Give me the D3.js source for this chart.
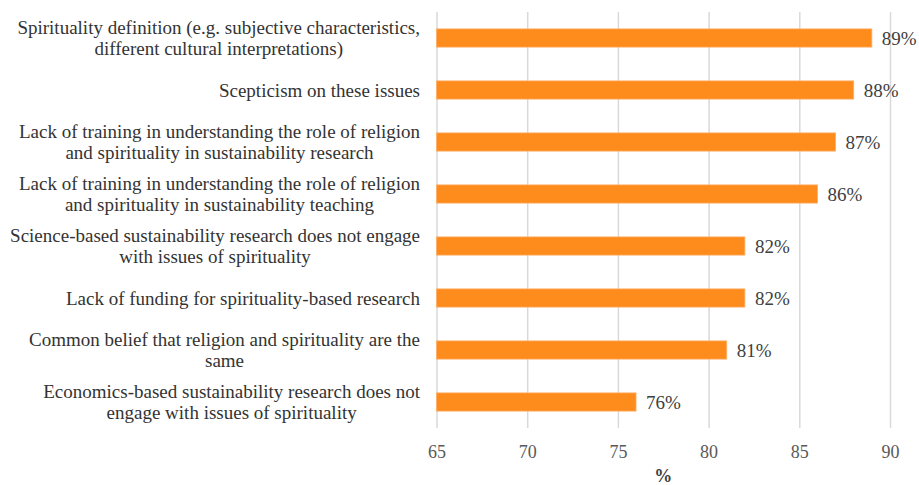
<!DOCTYPE html>
<html>
<head>
<meta charset="utf-8">
<script src="https://cdn.jsdelivr.net/npm/d3@7"></script>
<style>
  html, body { margin: 0; padding: 0; background: #fff; }
  svg { display: block; }
</style>
</head>
<body>
<svg id="chart" width="919" height="485"></svg>
<script>
const categories = [
  "Spirituality definition (e.g. subjective characteristics,\ndifferent cultural interpretations)",
  "Scepticism on these issues",
  "Lack of training in understanding the role of religion\nand spirituality in sustainability research",
  "Lack of training in understanding the role of religion\nand spirituality in sustainability teaching",
  "Science-based sustainability research does not engage\nwith issues of spirituality",
  "Lack of funding for spirituality-based research",
  "Common belief that religion and spirituality are the\nsame",
  "Economics-based sustainability research does not\nengage with issues of spirituality"
];
const values = [89, 88, 87, 86, 82, 82, 81, 76];
const xTicks = [65, 70, 75, 80, 85, 90];
const xTitle = "%";

(function () {
const FONT = "'Liberation Serif'";
const svg = d3.select("#chart").attr("font-family", "Liberation Serif");
const mLeft = 436.5, mRight = 890, mTop = 12, mBottom = 428;

const x = d3.scaleLinear().domain([65, 90]).range([mLeft, mRight]);
const y = d3.scaleBand().domain(d3.range(categories.length)).range([mTop, mBottom])
  .paddingInner(0.65).paddingOuter(0.325);

// gridlines
const grid = svg.append("g")
  .attr("transform", `translate(0,${mBottom})`)
  .call(d3.axisBottom(x).tickValues(xTicks).tickSize(-(mBottom - mTop)).tickFormat(d => d))
  .attr("font-family", "Liberation Serif");
grid.select(".domain").remove();
grid.selectAll(".tick line").attr("stroke", "#d9d9d9").attr("stroke-width", 1.5);
grid.selectAll(".tick text")
  .attr("y", 24).attr("dy", "0.35em")
  .attr("fill", "#595959")
  .style("font-size", "18px")
  .style("font-family", FONT);

// bars
svg.append("g").selectAll("rect").data(values).join("rect")
  .attr("x", x(65))
  .attr("y", (d, i) => y(i))
  .attr("width", d => x(d) - x(65))
  .attr("height", y.bandwidth())
  .attr("fill", "#fd8c1c")
  .attr("stroke", "#fdb06a")
  .attr("stroke-width", 0.8);

// value labels
svg.append("g").selectAll("text").data(values).join("text")
  .attr("x", d => x(d) + 10)
  .attr("y", (d, i) => y(i) + y.bandwidth() / 2)
  .attr("dy", "0.35em")
  .attr("fill", "#404040")
  .style("font-size", "19px")
  .style("font-family", FONT)
  .text(d => d + "%");

// category labels (multi-line, centered block, right-aligned)
const labelRight = 420;
const lineH = 21;
categories.forEach((c, i) => {
  const lines = c.split("\n");
  const g = svg.append("g");
  const cy = y(i) + y.bandwidth() / 2;
  const texts = lines.map((ln, k) => g.append("text")
    .attr("y", cy + (k - (lines.length - 1) / 2) * lineH)
    .attr("dy", "0.35em")
    .attr("fill", "#333333")
    .style("font-size", "19px")
    .style("font-family", FONT)
    .attr("text-anchor", "middle")
    .text(ln));
  const w = d3.max(texts, t => t.node().getComputedTextLength());
  texts.forEach(t => t.attr("x", labelRight - w / 2));
});

// axis title
svg.append("text")
  .attr("x", (mLeft + mRight) / 2)
  .attr("y", 476)
  .attr("dy", "0.35em")
  .attr("text-anchor", "middle")
  .attr("font-weight", "bold")
  .style("font-size", "18px")
  .style("font-family", FONT)
  .attr("fill", "#404040")
  .text(xTitle);
})();
</script>
</body>
</html>
